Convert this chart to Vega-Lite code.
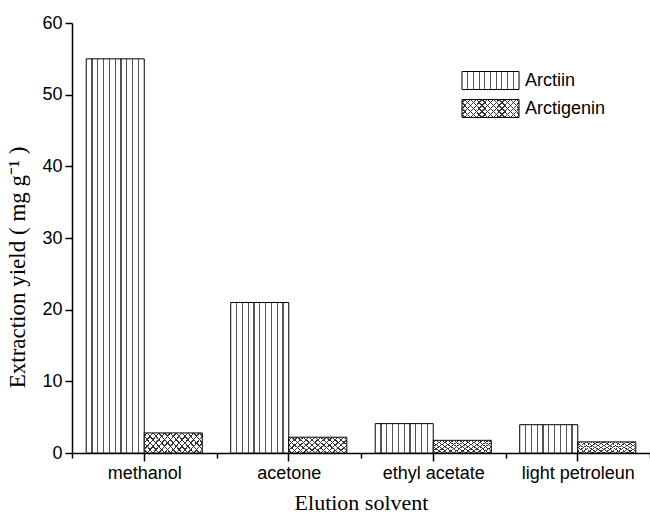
{
  "$schema": "https://vega.github.io/schema/vega-lite/v6.json",
  "width": 578,
  "height": 430,
  "autosize": "none",
  "padding": {"left": 72, "top": 23, "right": 0, "bottom": 62},
  "background": "white",
  "config": {"view": {"stroke": null}},
  "data": {
    "values": [
      {"solvent": "methanol", "series": "Arctiin", "value": 55.0},
      {"solvent": "methanol", "series": "Arctigenin", "value": 2.8},
      {"solvent": "acetone", "series": "Arctiin", "value": 21.0},
      {"solvent": "acetone", "series": "Arctigenin", "value": 2.2},
      {"solvent": "ethyl acetate", "series": "Arctiin", "value": 4.1},
      {"solvent": "ethyl acetate", "series": "Arctigenin", "value": 1.77},
      {"solvent": "light petroleun", "series": "Arctiin", "value": 3.95},
      {"solvent": "light petroleun", "series": "Arctigenin", "value": 1.55}
    ]
  },
  "layer": [
    {
      "transform": [{"filter": "datum.series === 'Arctiin'"}],
      "mark": {"type": "bar", "strokeWidth": 1},
      "encoding": {
        "x": {
          "field": "solvent", "type": "nominal", "sort": ["methanol", "acetone", "ethyl acetate", "light petroleun"],
          "scale": {"domain": ["methanol", "acetone", "ethyl acetate", "light petroleun"], "paddingInner": 0, "paddingOuter": 0},
          "axis": {
            "tickBand": "extent", "labelAngle": 0, "tickSize": 5, "tickColor": "black", "tickWidth": 1.5,
            "domainColor": "black", "domainWidth": 1.5,
            "labelFont": "Liberation Sans", "labelFontSize": 18, "labelColor": "black", "labelPadding": 6,
            "title": "Elution solvent", "titleFont": "Liberation Serif", "titleFontSize": 22,
            "titleFontWeight": "normal", "titleColor": "black", "titlePadding": 10, "grid": false
          }
        },
        "xOffset": {
          "field": "series", "type": "nominal",
          "scale": {"domain": ["Arctiin", "Arctigenin"], "paddingOuter": 0.245, "paddingInner": 0}
        },
        "y": {
          "field": "value", "type": "quantitative", "stack": null,
          "scale": {"domain": [0, 60], "nice": false},
          "axis": {
            "values": [0, 5, 10, 15, 20, 25, 30, 35, 40, 45, 50, 55, 60],
            "labelExpr": "datum.value % 10 == 0 ? datum.label : ''",
            "tickSize": {"condition": {"test": "datum.value % 10 == 0", "value": 7}, "value": 4},
            "grid": false, "tickColor": "black", "tickWidth": 1.5,
            "domainColor": "black", "domainWidth": 1.5,
            "labelFont": "Liberation Sans", "labelFontSize": 18, "labelColor": "black", "labelPadding": 3,
            "title": "Extraction yield ( mg g⁻¹ )", "titleFont": "Liberation Serif", "titleFontSize": 23,
            "titleFontWeight": "normal", "titleColor": "black", "titleX": -43, "titleY": 244, "titleBaseline": "bottom"
          }
        },
        "stroke": {
          "field": "series", "type": "nominal",
          "scale": {"domain": ["Arctiin"], "range": ["black"]},
          "legend": {
            "orient": "none", "legendX": 409, "legendY": 48, "title": null, "padding": 0,
            "symbolType": "M-3.17,-1H3.17V1H-3.17Z", "symbolSize": 324,
            "symbolStrokeWidth": 1, "symbolOpacity": 1,
            "labelFont": "Liberation Sans", "labelFontSize": 18, "labelColor": "black",
            "labelOffset": 25,
            "encode": {
              "symbols": {
                "update": {
                  "fill": {"value": {"gradient": "linear", "x1": 0, "y1": 0, "x2": 1, "y2": 0, "stops": [
                      {"offset": 0, "color": "white"},
                      {"offset": 0.09, "color": "white"}, {"offset": 0.09, "color": "#555"}, {"offset": 0.11, "color": "#555"}, {"offset": 0.11, "color": "white"},
                      {"offset": 0.19, "color": "white"}, {"offset": 0.19, "color": "#555"}, {"offset": 0.21, "color": "#555"}, {"offset": 0.21, "color": "white"},
                      {"offset": 0.29, "color": "white"}, {"offset": 0.29, "color": "#555"}, {"offset": 0.31, "color": "#555"}, {"offset": 0.31, "color": "white"},
                      {"offset": 0.39, "color": "white"}, {"offset": 0.39, "color": "#555"}, {"offset": 0.41, "color": "#555"}, {"offset": 0.41, "color": "white"},
                      {"offset": 0.49, "color": "white"}, {"offset": 0.49, "color": "#555"}, {"offset": 0.51, "color": "#555"}, {"offset": 0.51, "color": "white"},
                      {"offset": 0.59, "color": "white"}, {"offset": 0.59, "color": "#555"}, {"offset": 0.61, "color": "#555"}, {"offset": 0.61, "color": "white"},
                      {"offset": 0.69, "color": "white"}, {"offset": 0.69, "color": "#555"}, {"offset": 0.71, "color": "#555"}, {"offset": 0.71, "color": "white"},
                      {"offset": 0.79, "color": "white"}, {"offset": 0.79, "color": "#555"}, {"offset": 0.81, "color": "#555"}, {"offset": 0.81, "color": "white"},
                      {"offset": 0.89, "color": "white"}, {"offset": 0.89, "color": "#555"}, {"offset": 0.91, "color": "#555"}, {"offset": 0.91, "color": "white"},
                      {"offset": 1, "color": "white"}
                  ]}}
                }
              }
            }
          }
        },
        "fill": {"value": {"gradient": "linear", "x1": 0, "y1": 0, "x2": 1, "y2": 0, "stops": [
            {"offset": 0, "color": "white"},
            {"offset": 0.09, "color": "white"}, {"offset": 0.09, "color": "#555"}, {"offset": 0.11, "color": "#555"}, {"offset": 0.11, "color": "white"},
            {"offset": 0.19, "color": "white"}, {"offset": 0.19, "color": "#555"}, {"offset": 0.21, "color": "#555"}, {"offset": 0.21, "color": "white"},
            {"offset": 0.29, "color": "white"}, {"offset": 0.29, "color": "#555"}, {"offset": 0.31, "color": "#555"}, {"offset": 0.31, "color": "white"},
            {"offset": 0.39, "color": "white"}, {"offset": 0.39, "color": "#555"}, {"offset": 0.41, "color": "#555"}, {"offset": 0.41, "color": "white"},
            {"offset": 0.49, "color": "white"}, {"offset": 0.49, "color": "#555"}, {"offset": 0.51, "color": "#555"}, {"offset": 0.51, "color": "white"},
            {"offset": 0.59, "color": "white"}, {"offset": 0.59, "color": "#555"}, {"offset": 0.61, "color": "#555"}, {"offset": 0.61, "color": "white"},
            {"offset": 0.69, "color": "white"}, {"offset": 0.69, "color": "#555"}, {"offset": 0.71, "color": "#555"}, {"offset": 0.71, "color": "white"},
            {"offset": 0.79, "color": "white"}, {"offset": 0.79, "color": "#555"}, {"offset": 0.81, "color": "#555"}, {"offset": 0.81, "color": "white"},
            {"offset": 0.89, "color": "white"}, {"offset": 0.89, "color": "#555"}, {"offset": 0.91, "color": "#555"}, {"offset": 0.91, "color": "white"},
            {"offset": 1, "color": "white"}
        ]}}
      }
    },
    {
      "transform": [{"filter": "datum.series === 'Arctigenin'"}],
      "mark": {"type": "bar", "strokeWidth": 1},
      "encoding": {
        "x": {
          "field": "solvent", "type": "nominal", "sort": ["methanol", "acetone", "ethyl acetate", "light petroleun"],
          "scale": {"domain": ["methanol", "acetone", "ethyl acetate", "light petroleun"], "paddingInner": 0, "paddingOuter": 0},
          "axis": null
        },
        "xOffset": {
          "field": "series", "type": "nominal",
          "scale": {"domain": ["Arctiin", "Arctigenin"], "paddingOuter": 0.245, "paddingInner": 0}
        },
        "y": {
          "field": "value", "type": "quantitative", "stack": null,
          "scale": {"domain": [0, 60], "nice": false}
        },
        "stroke": {
          "field": "series", "type": "nominal",
          "scale": {"domain": ["Arctigenin"], "range": ["black"]},
          "legend": {
            "orient": "none", "legendX": 409, "legendY": 76, "title": null, "padding": 0,
            "symbolType": "M-3.17,-1H3.17V1H-3.17Z", "symbolSize": 324,
            "symbolStrokeWidth": 1, "symbolOpacity": 1,
            "labelFont": "Liberation Sans", "labelFontSize": 18, "labelColor": "black",
            "labelOffset": 25,
            "encode": {
              "symbols": {
                "update": {
                  "fill": {"value": {"gradient": "linear", "x1": 0, "y1": 0, "x2": 1.193, "y2": 0.358, "stops": [
                      {"offset": 0, "color": "white"},
                      {"offset": 0.0295, "color": "white"}, {"offset": 0.0295, "color": "#333"}, {"offset": 0.0475, "color": "#333"}, {"offset": 0.0475, "color": "white"},
                      {"offset": 0.1065, "color": "white"}, {"offset": 0.1065, "color": "#333"}, {"offset": 0.1245, "color": "#333"}, {"offset": 0.1245, "color": "white"},
                      {"offset": 0.1835, "color": "white"}, {"offset": 0.1835, "color": "#333"}, {"offset": 0.2015, "color": "#333"}, {"offset": 0.2015, "color": "white"},
                      {"offset": 0.2605, "color": "white"}, {"offset": 0.2605, "color": "#333"}, {"offset": 0.2785, "color": "#333"}, {"offset": 0.2785, "color": "white"},
                      {"offset": 0.3375, "color": "white"}, {"offset": 0.3375, "color": "#333"}, {"offset": 0.3555, "color": "#333"}, {"offset": 0.3555, "color": "white"},
                      {"offset": 0.4145, "color": "white"}, {"offset": 0.4145, "color": "#333"}, {"offset": 0.4325, "color": "#333"}, {"offset": 0.4325, "color": "white"},
                      {"offset": 0.4915, "color": "white"}, {"offset": 0.4915, "color": "#333"}, {"offset": 0.5095, "color": "#333"}, {"offset": 0.5095, "color": "white"},
                      {"offset": 0.5685, "color": "white"}, {"offset": 0.5685, "color": "#333"}, {"offset": 0.5865, "color": "#333"}, {"offset": 0.5865, "color": "white"},
                      {"offset": 0.6455, "color": "white"}, {"offset": 0.6455, "color": "#333"}, {"offset": 0.6635, "color": "#333"}, {"offset": 0.6635, "color": "white"},
                      {"offset": 0.7225, "color": "white"}, {"offset": 0.7225, "color": "#333"}, {"offset": 0.7405, "color": "#333"}, {"offset": 0.7405, "color": "white"},
                      {"offset": 0.7995, "color": "white"}, {"offset": 0.7995, "color": "#333"}, {"offset": 0.8175, "color": "#333"}, {"offset": 0.8175, "color": "white"},
                      {"offset": 0.8765, "color": "white"}, {"offset": 0.8765, "color": "#333"}, {"offset": 0.8945, "color": "#333"}, {"offset": 0.8945, "color": "white"},
                      {"offset": 0.9535, "color": "white"}, {"offset": 0.9535, "color": "#333"}, {"offset": 0.9715, "color": "#333"}, {"offset": 0.9715, "color": "white"},
                      {"offset": 1, "color": "white"}
                  ]}}
                }
              }
            }
          }
        },
        "fill": {"value": {"gradient": "linear", "x1": 0, "y1": 0, "x2": 1.193, "y2": 0.358, "stops": [
            {"offset": 0, "color": "white"},
            {"offset": 0.0295, "color": "white"}, {"offset": 0.0295, "color": "#333"}, {"offset": 0.0475, "color": "#333"}, {"offset": 0.0475, "color": "white"},
            {"offset": 0.1065, "color": "white"}, {"offset": 0.1065, "color": "#333"}, {"offset": 0.1245, "color": "#333"}, {"offset": 0.1245, "color": "white"},
            {"offset": 0.1835, "color": "white"}, {"offset": 0.1835, "color": "#333"}, {"offset": 0.2015, "color": "#333"}, {"offset": 0.2015, "color": "white"},
            {"offset": 0.2605, "color": "white"}, {"offset": 0.2605, "color": "#333"}, {"offset": 0.2785, "color": "#333"}, {"offset": 0.2785, "color": "white"},
            {"offset": 0.3375, "color": "white"}, {"offset": 0.3375, "color": "#333"}, {"offset": 0.3555, "color": "#333"}, {"offset": 0.3555, "color": "white"},
            {"offset": 0.4145, "color": "white"}, {"offset": 0.4145, "color": "#333"}, {"offset": 0.4325, "color": "#333"}, {"offset": 0.4325, "color": "white"},
            {"offset": 0.4915, "color": "white"}, {"offset": 0.4915, "color": "#333"}, {"offset": 0.5095, "color": "#333"}, {"offset": 0.5095, "color": "white"},
            {"offset": 0.5685, "color": "white"}, {"offset": 0.5685, "color": "#333"}, {"offset": 0.5865, "color": "#333"}, {"offset": 0.5865, "color": "white"},
            {"offset": 0.6455, "color": "white"}, {"offset": 0.6455, "color": "#333"}, {"offset": 0.6635, "color": "#333"}, {"offset": 0.6635, "color": "white"},
            {"offset": 0.7225, "color": "white"}, {"offset": 0.7225, "color": "#333"}, {"offset": 0.7405, "color": "#333"}, {"offset": 0.7405, "color": "white"},
            {"offset": 0.7995, "color": "white"}, {"offset": 0.7995, "color": "#333"}, {"offset": 0.8175, "color": "#333"}, {"offset": 0.8175, "color": "white"},
            {"offset": 0.8765, "color": "white"}, {"offset": 0.8765, "color": "#333"}, {"offset": 0.8945, "color": "#333"}, {"offset": 0.8945, "color": "white"},
            {"offset": 0.9535, "color": "white"}, {"offset": 0.9535, "color": "#333"}, {"offset": 0.9715, "color": "#333"}, {"offset": 0.9715, "color": "white"},
            {"offset": 1, "color": "white"}
        ]}}
      }
    },
    {
      "transform": [{"filter": "datum.series === 'Arctigenin'"}],
      "mark": {"type": "bar", "strokeWidth": 0},
      "encoding": {
        "x": {
          "field": "solvent", "type": "nominal", "sort": ["methanol", "acetone", "ethyl acetate", "light petroleun"],
          "scale": {"domain": ["methanol", "acetone", "ethyl acetate", "light petroleun"], "paddingInner": 0, "paddingOuter": 0},
          "axis": {
            "orient": "bottom", "labels": false, "domain": false, "title": null,
            "tickSize": 8, "tickColor": "black", "tickWidth": 1.5, "grid": false
          }
        },
        "xOffset": {
          "field": "series", "type": "nominal",
          "scale": {"domain": ["Arctiin", "Arctigenin"], "paddingOuter": 0.245, "paddingInner": 0}
        },
        "y": {
          "field": "value", "type": "quantitative", "stack": null,
          "scale": {"domain": [0, 60], "nice": false}
        },
        "stroke": {
          "field": "series", "type": "nominal",
          "scale": {"domain": ["Arctigenin"], "range": ["rgba(0,0,0,0)"]},
          "legend": {
            "orient": "none", "legendX": 409, "legendY": 76, "title": null, "padding": 0,
            "symbolType": "M-3.17,-1H3.17V1H-3.17Z", "symbolSize": 324,
            "symbolStrokeWidth": 1, "symbolOpacity": 1,
            "labelFont": "Liberation Sans", "labelFontSize": 18, "labelColor": "rgba(0,0,0,0)",
            "labelOffset": 25,
            "encode": {
              "symbols": {
                "update": {
                  "fill": {"value": {"gradient": "linear", "x1": 0, "y1": 1, "x2": 1.193, "y2": 0.642, "stops": [
                      {"offset": 0, "color": "rgba(255,255,255,0)"},
                      {"offset": 0.0295, "color": "rgba(255,255,255,0)"}, {"offset": 0.0295, "color": "#333"}, {"offset": 0.0475, "color": "#333"}, {"offset": 0.0475, "color": "rgba(255,255,255,0)"},
                      {"offset": 0.1065, "color": "rgba(255,255,255,0)"}, {"offset": 0.1065, "color": "#333"}, {"offset": 0.1245, "color": "#333"}, {"offset": 0.1245, "color": "rgba(255,255,255,0)"},
                      {"offset": 0.1835, "color": "rgba(255,255,255,0)"}, {"offset": 0.1835, "color": "#333"}, {"offset": 0.2015, "color": "#333"}, {"offset": 0.2015, "color": "rgba(255,255,255,0)"},
                      {"offset": 0.2605, "color": "rgba(255,255,255,0)"}, {"offset": 0.2605, "color": "#333"}, {"offset": 0.2785, "color": "#333"}, {"offset": 0.2785, "color": "rgba(255,255,255,0)"},
                      {"offset": 0.3375, "color": "rgba(255,255,255,0)"}, {"offset": 0.3375, "color": "#333"}, {"offset": 0.3555, "color": "#333"}, {"offset": 0.3555, "color": "rgba(255,255,255,0)"},
                      {"offset": 0.4145, "color": "rgba(255,255,255,0)"}, {"offset": 0.4145, "color": "#333"}, {"offset": 0.4325, "color": "#333"}, {"offset": 0.4325, "color": "rgba(255,255,255,0)"},
                      {"offset": 0.4915, "color": "rgba(255,255,255,0)"}, {"offset": 0.4915, "color": "#333"}, {"offset": 0.5095, "color": "#333"}, {"offset": 0.5095, "color": "rgba(255,255,255,0)"},
                      {"offset": 0.5685, "color": "rgba(255,255,255,0)"}, {"offset": 0.5685, "color": "#333"}, {"offset": 0.5865, "color": "#333"}, {"offset": 0.5865, "color": "rgba(255,255,255,0)"},
                      {"offset": 0.6455, "color": "rgba(255,255,255,0)"}, {"offset": 0.6455, "color": "#333"}, {"offset": 0.6635, "color": "#333"}, {"offset": 0.6635, "color": "rgba(255,255,255,0)"},
                      {"offset": 0.7225, "color": "rgba(255,255,255,0)"}, {"offset": 0.7225, "color": "#333"}, {"offset": 0.7405, "color": "#333"}, {"offset": 0.7405, "color": "rgba(255,255,255,0)"},
                      {"offset": 0.7995, "color": "rgba(255,255,255,0)"}, {"offset": 0.7995, "color": "#333"}, {"offset": 0.8175, "color": "#333"}, {"offset": 0.8175, "color": "rgba(255,255,255,0)"},
                      {"offset": 0.8765, "color": "rgba(255,255,255,0)"}, {"offset": 0.8765, "color": "#333"}, {"offset": 0.8945, "color": "#333"}, {"offset": 0.8945, "color": "rgba(255,255,255,0)"},
                      {"offset": 0.9535, "color": "rgba(255,255,255,0)"}, {"offset": 0.9535, "color": "#333"}, {"offset": 0.9715, "color": "#333"}, {"offset": 0.9715, "color": "rgba(255,255,255,0)"},
                      {"offset": 1, "color": "rgba(255,255,255,0)"}
                  ]}}
                }
              }
            }
          }
        },
        "fill": {"value": {"gradient": "linear", "x1": 0, "y1": 1, "x2": 1.193, "y2": 0.642, "stops": [
            {"offset": 0, "color": "rgba(255,255,255,0)"},
            {"offset": 0.0295, "color": "rgba(255,255,255,0)"}, {"offset": 0.0295, "color": "#333"}, {"offset": 0.0475, "color": "#333"}, {"offset": 0.0475, "color": "rgba(255,255,255,0)"},
            {"offset": 0.1065, "color": "rgba(255,255,255,0)"}, {"offset": 0.1065, "color": "#333"}, {"offset": 0.1245, "color": "#333"}, {"offset": 0.1245, "color": "rgba(255,255,255,0)"},
            {"offset": 0.1835, "color": "rgba(255,255,255,0)"}, {"offset": 0.1835, "color": "#333"}, {"offset": 0.2015, "color": "#333"}, {"offset": 0.2015, "color": "rgba(255,255,255,0)"},
            {"offset": 0.2605, "color": "rgba(255,255,255,0)"}, {"offset": 0.2605, "color": "#333"}, {"offset": 0.2785, "color": "#333"}, {"offset": 0.2785, "color": "rgba(255,255,255,0)"},
            {"offset": 0.3375, "color": "rgba(255,255,255,0)"}, {"offset": 0.3375, "color": "#333"}, {"offset": 0.3555, "color": "#333"}, {"offset": 0.3555, "color": "rgba(255,255,255,0)"},
            {"offset": 0.4145, "color": "rgba(255,255,255,0)"}, {"offset": 0.4145, "color": "#333"}, {"offset": 0.4325, "color": "#333"}, {"offset": 0.4325, "color": "rgba(255,255,255,0)"},
            {"offset": 0.4915, "color": "rgba(255,255,255,0)"}, {"offset": 0.4915, "color": "#333"}, {"offset": 0.5095, "color": "#333"}, {"offset": 0.5095, "color": "rgba(255,255,255,0)"},
            {"offset": 0.5685, "color": "rgba(255,255,255,0)"}, {"offset": 0.5685, "color": "#333"}, {"offset": 0.5865, "color": "#333"}, {"offset": 0.5865, "color": "rgba(255,255,255,0)"},
            {"offset": 0.6455, "color": "rgba(255,255,255,0)"}, {"offset": 0.6455, "color": "#333"}, {"offset": 0.6635, "color": "#333"}, {"offset": 0.6635, "color": "rgba(255,255,255,0)"},
            {"offset": 0.7225, "color": "rgba(255,255,255,0)"}, {"offset": 0.7225, "color": "#333"}, {"offset": 0.7405, "color": "#333"}, {"offset": 0.7405, "color": "rgba(255,255,255,0)"},
            {"offset": 0.7995, "color": "rgba(255,255,255,0)"}, {"offset": 0.7995, "color": "#333"}, {"offset": 0.8175, "color": "#333"}, {"offset": 0.8175, "color": "rgba(255,255,255,0)"},
            {"offset": 0.8765, "color": "rgba(255,255,255,0)"}, {"offset": 0.8765, "color": "#333"}, {"offset": 0.8945, "color": "#333"}, {"offset": 0.8945, "color": "rgba(255,255,255,0)"},
            {"offset": 0.9535, "color": "rgba(255,255,255,0)"}, {"offset": 0.9535, "color": "#333"}, {"offset": 0.9715, "color": "#333"}, {"offset": 0.9715, "color": "rgba(255,255,255,0)"},
            {"offset": 1, "color": "rgba(255,255,255,0)"}
        ]}}
      }
    }
  ],
  "resolve": {"scale": {"stroke": "independent"}, "axis": {"x": "independent"}}
}
